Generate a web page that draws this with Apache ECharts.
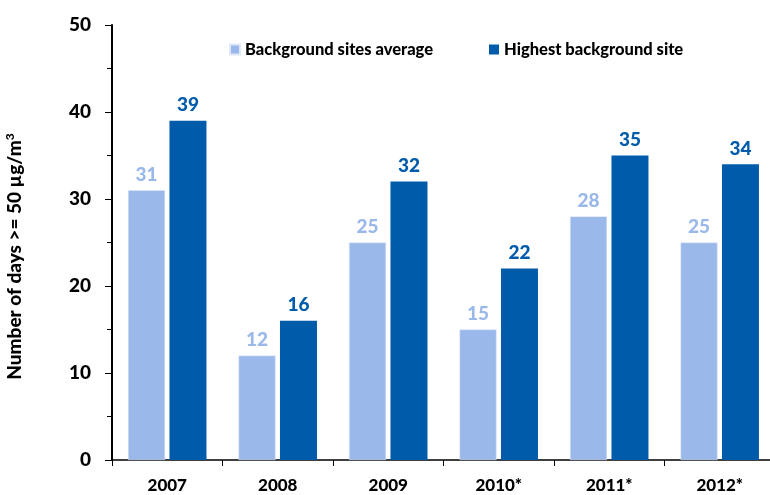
<!DOCTYPE html>
<html>
<head>
<meta charset="utf-8">
<script src="https://cdn.jsdelivr.net/npm/echarts@6/dist/echarts.min.js"></script>
<style>
  html, body { margin: 0; padding: 0; background: #fff; }
  #chart { width: 770px; height: 495px; }
</style>
</head>
<body>
<div id="chart"></div>
<script>
// Exceedance days per year
const years = ['2007', '2008', '2009', '2010*', '2011*', '2012*'];
const backgroundAverage = [31, 12, 25, 15, 28, 25];
const highestBackground = [39, 16, 32, 22, 35, 34];
const yTicks = [0, 10, 20, 30, 40, 50];

const LIGHT = '#9BB8EA';
const DARK = '#005BAA';
const FONT = 'Lato';

const chart = echarts.init(document.getElementById('chart'), null, { renderer: 'canvas' });

const barLabel = (color) => ({
  show: true,
  position: 'top',
  distance: 6,
  color: color,
  fontFamily: FONT,
  fontWeight: 900,
  fontSize: 19
});

const legendText = { fontFamily: FONT, fontWeight: 900, fontSize: 16.5, color: '#000' };

chart.setOption({
  animation: false,
  backgroundColor: '#ffffff',
  textStyle: { fontFamily: FONT },
  legend: [
    {
      data: ['Background sites average'],
      left: 224, top: 36,
      icon: 'rect', itemWidth: 10, itemHeight: 10, itemGap: 5,
      textStyle: legendText
    },
    {
      data: ['Highest background site'],
      left: 484, top: 36,
      icon: 'rect', itemWidth: 10, itemHeight: 10, itemGap: 5,
      textStyle: legendText
    }
  ],
  grid: {
    left: 112, top: 25, width: 663, height: 435,
    containLabel: false,
    outerBoundsMode: 'none'
  },
  xAxis: {
    type: 'category',
    data: years,
    axisLine: { show: true, lineStyle: { color: '#000', width: 1.5 } },
    axisTick: { show: true, alignWithLabel: false, length: 6, lineStyle: { color: '#000', width: 1 } },
    axisLabel: { margin: 17, color: '#000', fontFamily: FONT, fontWeight: 900, fontSize: 17 },
    splitLine: { show: false }
  },
  yAxis: {
    type: 'value',
    min: yTicks[0],
    max: yTicks[yTicks.length - 1],
    interval: 10,
    name: 'Number of days >= 50 µg/m{sup|3}',
    nameLocation: 'middle',
    nameGap: 87,
    nameRotate: 90,
    nameTextStyle: {
      color: '#000', fontFamily: FONT, fontWeight: 900, fontSize: 19,
      padding: [0, 28, 0, 0],
      rich: { sup: { fontSize: 12, fontWeight: 900, fontFamily: FONT, color: '#000', verticalAlign: 'top', padding: [0, 0, 9, 0] } }
    },
    axisLine: { show: true, lineStyle: { color: '#000', width: 2 } },
    axisTick: { show: true, length: 7, lineStyle: { color: '#000', width: 1 } },
    minorTick: { show: true, splitNumber: 2, length: 5, lineStyle: { color: '#000', width: 1 } },
    axisLabel: { margin: 21, color: '#000', fontFamily: FONT, fontWeight: 900, fontSize: 19 },
    splitLine: { show: false },
    minorSplitLine: { show: false }
  },
  series: [
    {
      name: 'Background sites average',
      type: 'bar',
      data: backgroundAverage,
      barWidth: 37,
      barGap: '12%',
      itemStyle: { color: LIGHT, borderColor: '#dfe8f8', borderWidth: 0.5 },
      label: barLabel(LIGHT)
    },
    {
      name: 'Highest background site',
      type: 'bar',
      data: highestBackground,
      barWidth: 37,
      itemStyle: { color: DARK },
      label: barLabel(DARK)
    }
  ]
});
</script>
</body>
</html>
